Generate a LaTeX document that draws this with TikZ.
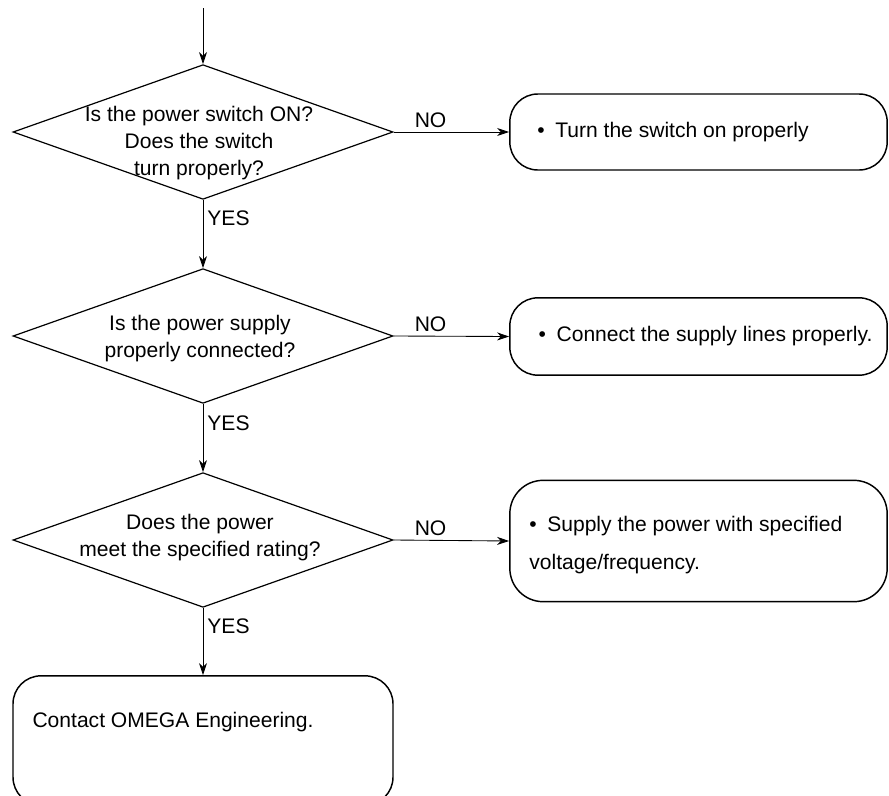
\documentclass[tikz,border=0pt]{standalone}
\usepackage{fontspec}
\setmainfont{Liberation Sans}
\usetikzlibrary{shapes.geometric,arrows.meta,positioning}

\begin{document}
\begin{tikzpicture}[x=0.75pt, y=-0.75pt,
    font=\fontsize{15.8}{20.3}\selectfont,
    decision/.style={draw, diamond, line width=0.9pt, minimum width=285pt, minimum height=101pt, inner sep=0pt},
    action/.style={draw, rectangle, rounded corners=21pt, line width=1.1pt, minimum width=283pt, inner sep=0pt},
    qtext/.style={align=center, inner sep=0pt},
    btext/.style={align=left, inner sep=0pt},
    flow/.style={-{Stealth[length=9pt,width=6pt,inset=2.8pt]}, line width=0.65pt},
    tag/.style={inner sep=3pt}]
    \useasboundingbox (0,0) rectangle (889,796);

    % Checks down the left
    \coordinate (start) at (203,8);
    \node[decision] (q1) at (203,132) {};
    \node[decision] (q2) at (203,336) {};
    \node[decision] (q3) at (203,540) {};
    \node[qtext] (q1txt) at (199,143) {Is the power switch ON?\\Does the switch\\turn properly?};
    \node[qtext] (q2txt) at (200,339) {Is the power supply\\properly connected?};
    \node[qtext] (q3txt) at (200,538) {Does the power\\meet the specified rating?};

    % Remedies on the right
    \node[action, minimum height=57pt] (a1) at (698.5,132) {};
    \node[action, minimum height=58pt] (a2) at (698.5,336.5) {};
    \node[action, minimum height=91pt, rounded corners=25pt] (a3) at (698.5,541) {};
    \node[action, minimum width=285pt, minimum height=97pt] (a4) at (203,740.5) {};

    \node[btext, right=21pt of a1.west] (a1txt) {\textbullet\enspace Turn the switch on properly};
    \node[btext, right=22pt of a2.west] (a2txt) {\textbullet\enspace Connect the supply lines properly.};
    \node[btext, right=15pt of a3.west, yshift=-3pt, font=\fontsize{15.8}{28.5}\selectfont] (a3txt) {\textbullet\enspace Supply the power with specified\\voltage/frequency.};
    \node[btext, anchor=west] (a4txt) at ([xshift=15pt, yshift=-35pt]a4.north west) {Contact OMEGA Engineering.};

    % Connectors
    \draw[flow] (start) -- (q1.north);
    \draw[flow] (q1.east) -- node[tag, above, pos=0.32] (no1) {NO} (a1.west);
    \draw[flow] (q2.east) -- node[tag, above, pos=0.32] (no2) {NO} (a2.west);
    \draw[flow] (q3.east) -- node[tag, above, pos=0.32] (no3) {NO} (a3.west);
    \draw[flow] (q1.south) -- node[tag, right, pos=0.27] (yes1) {YES} (q2.north);
    \draw[flow] (q2.south) -- node[tag, right, pos=0.28] (yes2) {YES} (q3.north);
    \draw[flow] (q3.south) -- node[tag, right, pos=0.28] (yes3) {YES} (a4.north);
\end{tikzpicture}
\end{document}
